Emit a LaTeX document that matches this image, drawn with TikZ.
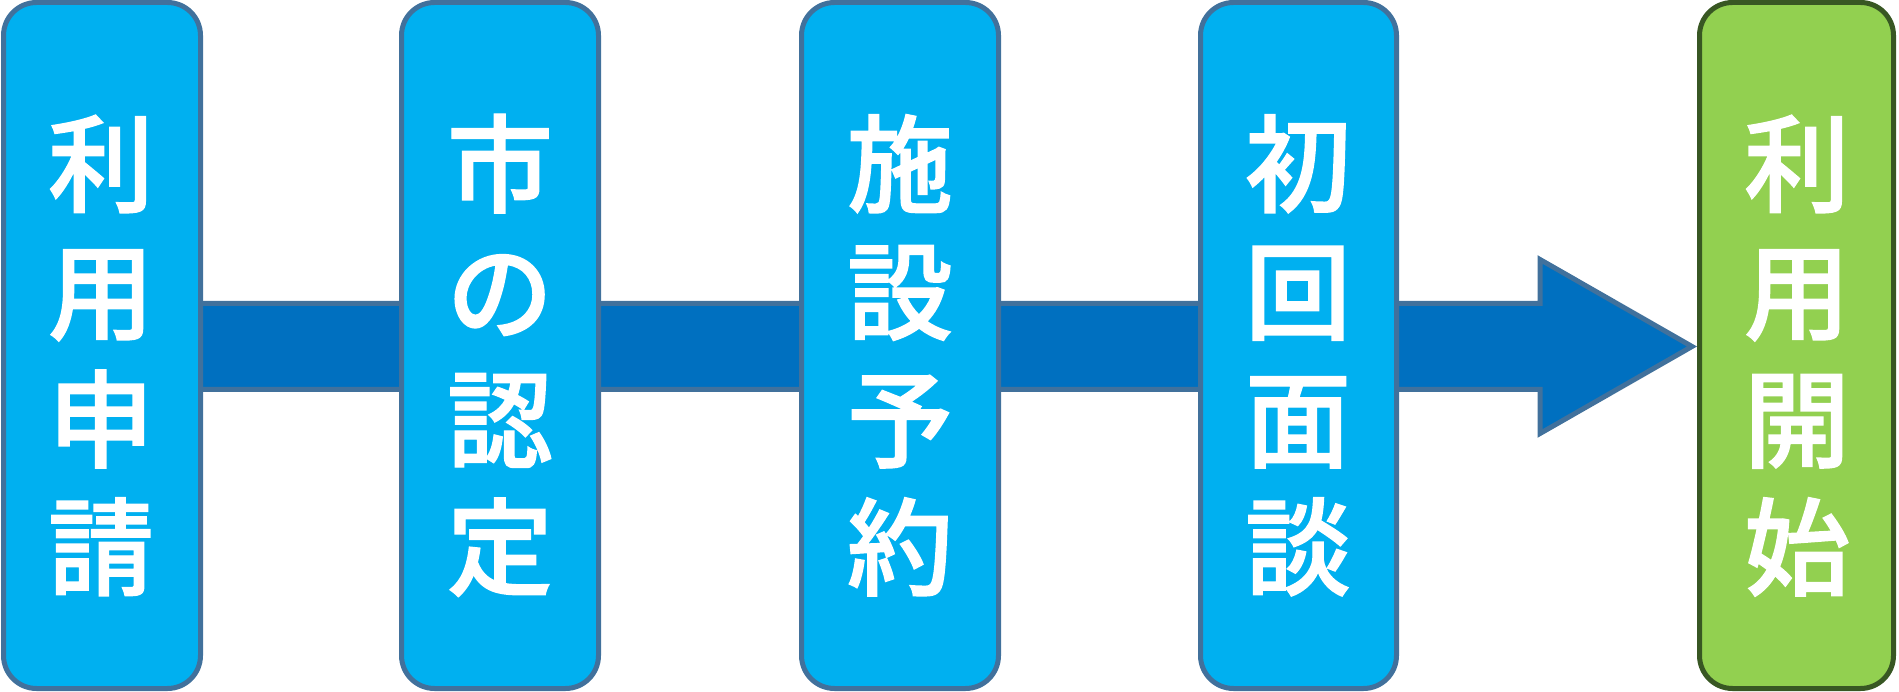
\documentclass[tikz,border=0pt]{standalone}
\usepackage{fontspec}
\newfontfamily\jp{Noto Sans CJK JP}[UprightFont={* Medium}, BoldFont={* Medium}, BoldFeatures={FakeBold=1.3}]
\definecolor{boxfill}{HTML}{00B0F0}
\definecolor{boxline}{HTML}{41719C}
\definecolor{arrowfill}{HTML}{0070C0}
\definecolor{greenfill}{HTML}{92D050}
\definecolor{greenline}{HTML}{385723}
\tikzset{
  stepbox/.style={draw=boxline, fill=boxfill, line width=5pt, rounded corners=33pt},
  endbox/.style={draw=greenline, fill=greenfill, line width=5pt, rounded corners=33pt},
  bigarrow/.style={draw=boxline, fill=arrowfill, line width=5pt, line join=miter},
  jpchar/.style={text=white, font=\jp\bfseries\fontsize{106}{127}\selectfont, inner sep=0pt, anchor=base}
}
\begin{document}
\begin{tikzpicture}[x=1pt, y=-1pt]
\useasboundingbox (0,0) rectangle (1899,692);
% big arrow behind
\draw[bigarrow] (100,303.5) -- (1540,303.5) -- (1540,259.5) -- (1692,346.5) -- (1540,433.5) -- (1540,389.5) -- (100,389.5) -- cycle;
% boxes
\draw[stepbox] (3.5,2.5) rectangle (200.5,688.5);
\draw[stepbox] (401.5,2.5) rectangle (598.5,688.5);
\draw[stepbox] (801.5,2.5) rectangle (998.5,688.5);
\draw[stepbox] (1200.5,2.5) rectangle (1396.5,688.5);
\draw[endbox] (1699.5,2.5) rectangle (1893.5,688.5);
% texts
\foreach \c [count=\k] in {利,用,申,請}
  \node[jpchar] (a\k) at (101,{204+(\k-1)*127.7}) {\c};
\foreach \c [count=\k] in {市,の,認,定}
  \node[jpchar] (b\k) at (500,{204+(\k-1)*127.7}) {\c};
\foreach \c [count=\k] in {施,設,予,約}
  \node[jpchar] (c\k) at (900,{204+(\k-1)*127.7}) {\c};
\foreach \c [count=\k] in {初,回,面,談}
  \node[jpchar] (d\k) at (1298,{204+(\k-1)*127.7}) {\c};
\foreach \c [count=\k] in {利,用,開,始}
  \node[jpchar] (e\k) at (1797,{204+(\k-1)*127.7}) {\c};
\end{tikzpicture}
\end{document}
